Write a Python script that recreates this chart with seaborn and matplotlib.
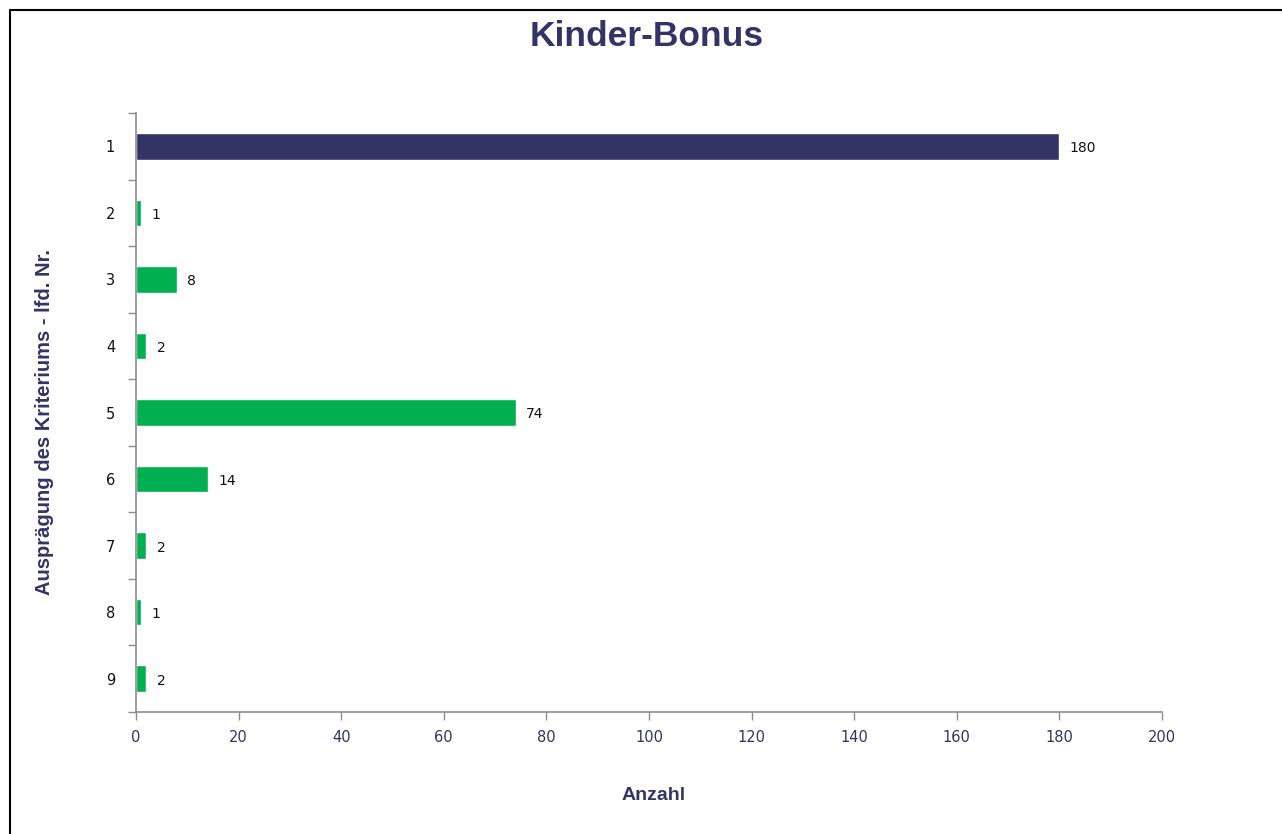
import matplotlib
matplotlib.use("Agg")
import matplotlib.pyplot as plt
from matplotlib.lines import Line2D
from matplotlib.ticker import FixedLocator
import numpy as np
import pandas as pd
import seaborn as sns

# data
categories = ["1", "2", "3", "4", "5", "6", "7", "8", "9"]
counts = [180, 1, 8, 2, 74, 14, 2, 1, 2]
highlight = ["top", "rest", "rest", "rest", "rest", "rest", "rest", "rest", "rest"]
x_ticks = [0, 20, 40, 60, 80, 100, 120, 140, 160, 180, 200]

NAVY = "#333366"
GREEN = "#00B050"
GREY = "#8c8c8c"

sns.set_theme(style="white")
plt.rcParams["font.family"] = ["DejaVu Sans"]
plt.rcParams["font.sans-serif"] = ["DejaVu Sans"]

df = pd.DataFrame({"cat": categories, "count": counts, "group": highlight})

fig = plt.figure(figsize=(12.82, 8.34), dpi=100)
ax = fig.add_axes([136 / 1282, 1 - 712 / 834, (1162 - 136) / 1282, (712 - 113) / 834])

sns.barplot(data=df, y="cat", x="count", hue="group", orient="h",
            palette={"top": NAVY, "rest": GREEN}, dodge=False,
            width=0.4, legend=False, ax=ax, saturation=1)

# value labels next to each bar
for i, v in enumerate(counts):
    ax.text(v + 2, i + 0.03, str(v), va="center", ha="left", fontsize=10,
            color="#111111", family="DejaVu Sans")

ax.set_xlim(0, 200)
ax.set_ylim(len(categories) - 0.5, -0.5)
ax.xaxis.set_major_locator(FixedLocator(x_ticks))
ax.set_xticklabels([str(t) for t in x_ticks], fontsize=10.5, color=NAVY,
                   family="DejaVu Sans")

# y tick marks sit between categories, labels centred on bars
ax.set_yticks(range(len(categories)))
ax.set_yticklabels(categories, fontsize=10.5, color="#111111", family="DejaVu Sans")
ax.yaxis.set_minor_locator(FixedLocator(np.arange(-0.5, len(categories), 1.0)))
ax.tick_params(axis="y", which="major", length=0, pad=15)
ax.tick_params(axis="y", which="minor", length=6, width=1, color=GREY, left=True)
ax.tick_params(axis="x", which="major", length=6, width=1, color=GREY, bottom=True, pad=7)

for side in ["top", "right"]:
    ax.spines[side].set_visible(False)
for side in ["left", "bottom"]:
    ax.spines[side].set_color(GREY)
    ax.spines[side].set_linewidth(1.2)

ax.set_xlabel("")
ax.set_ylabel("")

title_font = ["Liberation Sans", "DejaVu Sans"]
fig.text(647 / 1282, 1 - 37 / 834, "Kinder-Bonus", ha="center", va="center",
         fontsize=25.5, fontweight="bold", color=NAVY, family=title_font)
fig.text(654 / 1282, 1 - 795 / 834, "Anzahl", ha="center", va="center",
         fontsize=14, fontweight="bold", color=NAVY, family=title_font)
fig.text(45 / 1282, 1 - 422 / 834, "Ausprägung des Kriteriums - lfd. Nr.", ha="center",
         va="center", rotation=90, fontsize=14.5, fontweight="bold", color=NAVY,
         family=title_font)

# outer frame (top and left edges visible in the reference)
fig.add_artist(Line2D([10 / 1282, 10 / 1282], [0, 1 - 10 / 834], color="black", lw=1.5,
                      transform=fig.transFigure))
fig.add_artist(Line2D([10 / 1282, 1], [1 - 10 / 834, 1 - 10 / 834], color="black", lw=1.5,
                      transform=fig.transFigure))

fig.savefig("out.png", dpi=100)
